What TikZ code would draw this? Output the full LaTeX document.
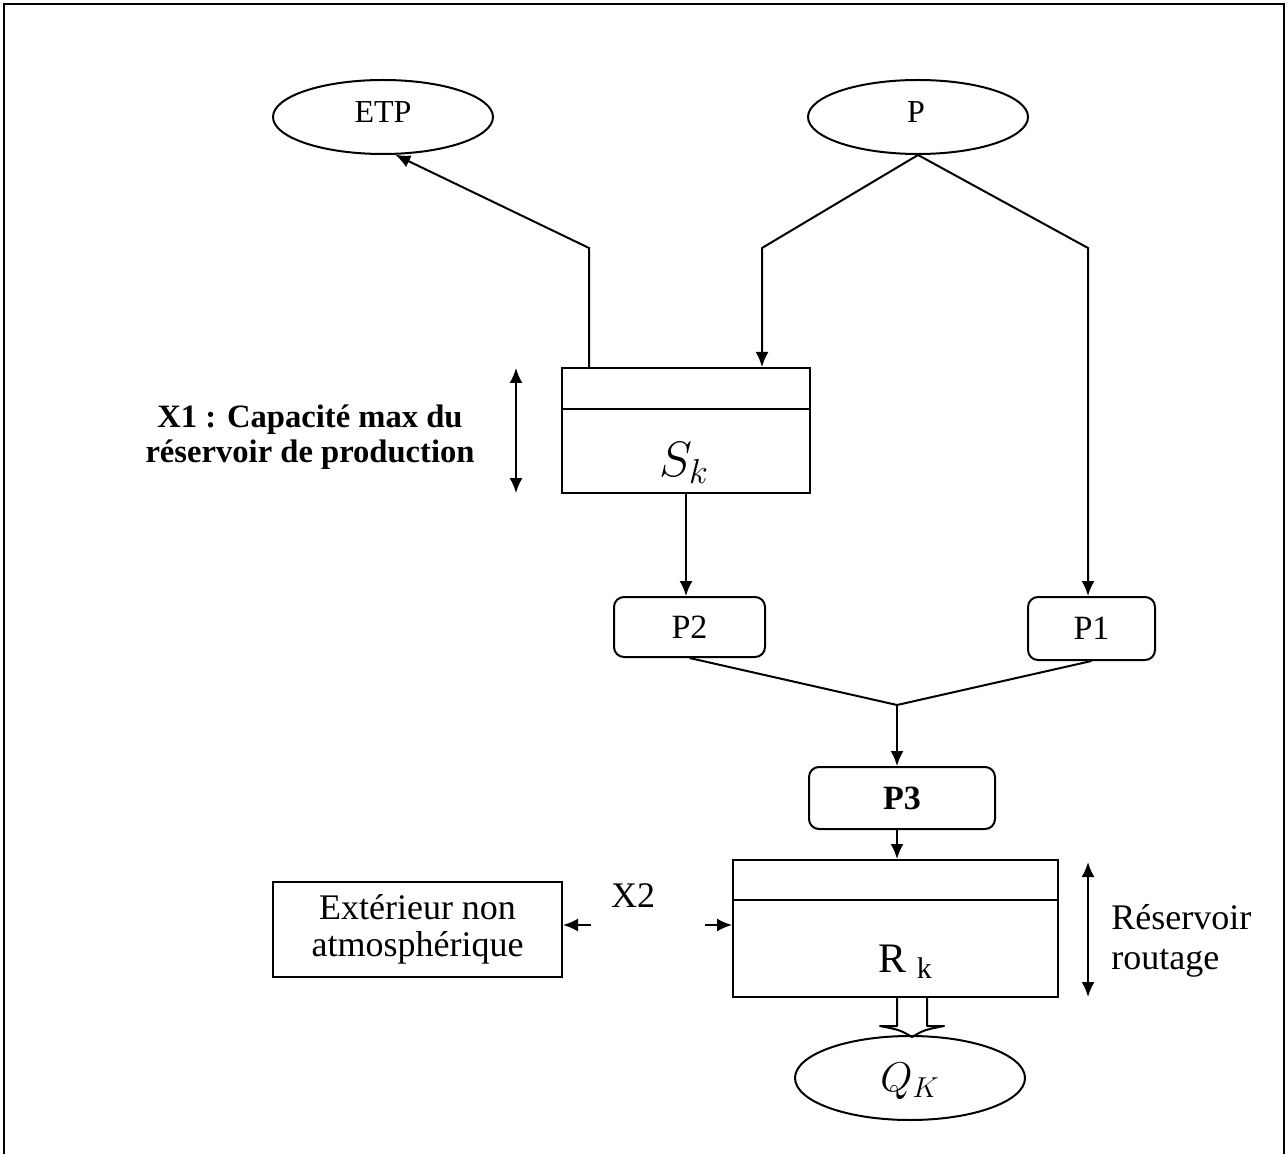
\documentclass[tikz,border=0pt]{standalone}
\usepackage{fontspec}
\setmainfont{Liberation Serif}
\usetikzlibrary{shapes.geometric,arrows.meta,calc}
\tikzset{
  ln/.style={line width=1pt, draw=black},
  arr/.style={ln, -{Latex[length=7.5pt,width=6.5pt]}},
  dbl/.style={ln, {Latex[length=7.5pt,width=6.5pt]}-{Latex[length=7.5pt,width=6.5pt]}},
  ell/.style={ellipse, ln, inner sep=0pt, font=\fontsize{16}{19}\selectfont},
  rbox/.style={rectangle, rounded corners=5pt, ln, inner sep=0pt, font=\fontsize{17}{20}\selectfont},
  sbox/.style={rectangle, ln, inner sep=0pt},
  txt/.style={inner sep=0pt, font=\fontsize{17}{20}\selectfont}
}
\begin{document}
\begin{tikzpicture}[x=0.5pt, y=-0.5pt]
\useasboundingbox (0,0) rectangle (1288,1154);
% frame
\draw[line width=0.8pt] (4,1154) -- (4,4) -- (1284,4) -- (1284,1154);
\draw[line width=1.4pt] (4,4) -- (1284,4);

% nodes
\node[ell, minimum width=110pt, minimum height=37pt] (ETP) at (383,117) {};
\node[txt, anchor=base, font=\fontsize{16}{19}\selectfont] (ETPt) at (383,123) {ETP};
\node[ell, minimum width=110pt, minimum height=37pt] (P) at (918,117) {};
\node[txt, anchor=base, font=\fontsize{16}{19}\selectfont] (Pt) at (916,123) {P};

\node[sbox, minimum width=124pt, minimum height=62.5pt] (Sk) at (686,430.5) {};
\draw[ln] ($(Sk.north west)+(0,42)$) -- ($(Sk.north east)+(0,42)$);
\node[inner sep=0pt, anchor=base] (Skt) at (684,476) {\fontsize{24}{26}\selectfont$S_k$};

\node[txt, align=center, font=\bfseries\fontsize{16.3}{17.5}\selectfont] (X1t) at (310,437) {X1 : Capacité max du\\réservoir de production};
\coordinate (x1a) at (516,368);
\coordinate (x1b) at (516,493);
\draw[dbl] (x1a) -- (x1b);

\node[rbox, minimum width=75.5pt, minimum height=30pt] (P2) at (689.5,627) {P2};
\node[rbox, minimum width=63.5pt, minimum height=31.5pt] (P1) at (1091.5,628.5) {P1};
\node[rbox, minimum width=93pt, minimum height=31pt, font=\bfseries\fontsize{17}{20}\selectfont] (P3) at (902,798) {P3};

\node[sbox, minimum width=162.5pt, minimum height=68.5pt] (Rk) at (895.5,928.5) {};
\draw[ln] ($(Rk.north west)+(0,41)$) -- ($(Rk.north east)+(0,41)$);
\node[inner sep=0pt, anchor=base] (Rkt) at (905,972) {\fontsize{21}{22}\selectfont R~\raisebox{-3pt}{\fontsize{15}{16}\selectfont k}};

\node[sbox, minimum width=144.5pt, minimum height=47.5pt, align=center, font=\fontsize{18}{18.5}\selectfont] (Ext) at (417.5,929.5) {Extérieur non\\atmosphérique};
\node[txt, font=\fontsize{18}{20}\selectfont] (X2t) at (633,896) {X2};

\coordinate (r1) at (1088,862);
\coordinate (r2) at (1088,997);
\draw[dbl] (r1) -- (r2);
\node[txt, align=left, anchor=west, font=\fontsize{18}{20}\selectfont] (Rest) at (1111,941) {Réservoir\\routage};

\node[ell, minimum width=115pt, minimum height=42pt] (Qk) at (910,1078) {};
\node[inner sep=0pt, anchor=base] (Qkt) at (910,1091) {\fontsize{21}{22}\selectfont$Q_K$};

% connectors
\coordinate (e1) at (589,248);
\draw[arr] (Sk.north -| e1) -- (e1) -- (ETP.-72);
\coordinate (p1) at (762,248);
\draw[arr] (P.south) -- (p1) -- (p1 |- Sk.north);
\coordinate (p2) at (1088,248);
\draw[arr] (P.south) -- (p2) -- (p2 |- P1.north);
\draw[arr] (Sk.south) -- (Sk.south |- P2.north);
\coordinate (j) at (897,705);
\draw[ln] (P2.south) -- (j);
\draw[ln] (P1.south) -- (j);
\draw[arr] (j) -- (j |- P3.north);
\draw[arr] (j |- P3.south) -- (j |- Rk.north);

\coordinate (x2l) at (591,925);
\draw[arr] (x2l) -- (x2l -| Ext.east);
\coordinate (x2r) at (705,925);
\draw[arr] (x2r) -- (x2r -| Rk.west);

% hollow block arrow Rk -> Qk
\coordinate (h1) at (897,997);
\coordinate (h2) at (927,997);
\draw[ln, line join=round] (h1) -- (897,1026) -- (880,1026) .. controls (900,1030) .. (912,1037) .. controls (924,1030) .. (944,1026) -- (927,1026) -- (h2);
\end{tikzpicture}
\end{document}
